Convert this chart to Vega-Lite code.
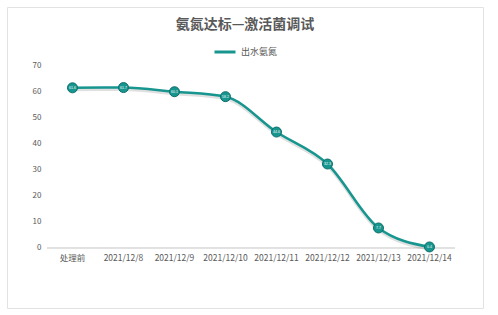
{
  "$schema": "https://vega.github.io/schema/vega-lite/v6.json",
  "width": 476,
  "height": 301,
  "autosize": "none",
  "padding": {"left": 7, "top": 7, "right": 15, "bottom": 7},
  "background": "white",
  "config": {
    "view": {"stroke": "#e2e2e2", "strokeWidth": 1},
    "legend": {"layout": {"top": {"anchor": "middle"}}}
  },
  "title": {
    "text": "氨氮达标—激活菌调试",
    "font": "Noto Sans CJK SC",
    "fontSize": 14,
    "fontWeight": "bold",
    "color": "#595959",
    "anchor": "middle",
    "offset": -25
  },
  "data": {
    "values": [
      {"date": "处理前", "value": 61.6, "series": "出水氨氮"},
      {"date": "2021/12/8", "value": 61.7, "series": "出水氨氮"},
      {"date": "2021/12/9", "value": 60.1, "series": "出水氨氮"},
      {"date": "2021/12/10", "value": 58.2, "series": "出水氨氮"},
      {"date": "2021/12/11", "value": 44.6, "series": "出水氨氮"},
      {"date": "2021/12/12", "value": 32.3, "series": "出水氨氮"},
      {"date": "2021/12/13", "value": 7.7, "series": "出水氨氮"},
      {"date": "2021/12/14", "value": 0.4, "series": "出水氨氮"}
    ]
  },
  "encoding": {
    "x": {
      "field": "date",
      "type": "ordinal",
      "sort": null,
      "scale": {"type": "band", "paddingInner": 0, "paddingOuter": 0.6667, "align": 0.588},
      "axis": {
        "title": null,
        "labelAngle": 0,
        "ticks": false,
        "grid": false,
        "domain": false,
        "offset": -60,
        "labelColor": "#595959",
        "labelFont": "Noto Sans CJK SC",
        "labelFontSize": 8.5,
        "labelPadding": 5
      }
    },
    "y": {
      "field": "value",
      "type": "quantitative",
      "scale": {"domain": [-23.08, 92.69], "nice": false, "zero": false},
      "axis": {
        "title": null,
        "values": [0, 10, 20, 30, 40, 50, 60, 70],
        "domain": false,
        "ticks": false,
        "grid": false,
        "offset": -40,
        "labelColor": "#595959",
        "labelFont": "Noto Sans CJK SC",
        "labelFontSize": 8,
        "labelPadding": 6
      }
    }
  },
  "layer": [
    {
      "description": "x baseline at zero, one segment per category band",
      "mark": {"type": "bar", "fill": null, "stroke": "#d9d9d9", "strokeWidth": 1},
      "encoding": {
        "y": {"datum": 0},
        "y2": {"datum": 0}
      }
    },
    {
      "description": "soft shadow under the series line",
      "mark": {"type": "line", "interpolate": "monotone", "strokeWidth": 3, "color": "#000000", "opacity": 0.12, "yOffset": 2}
    },
    {
      "mark": {"type": "line", "interpolate": "monotone", "strokeWidth": 2.5},
      "encoding": {
        "color": {
          "field": "series",
          "type": "nominal",
          "scale": {"range": ["#17958f"]},
          "legend": {
            "title": null,
            "orient": "top",
            "direction": "horizontal",
            "symbolType": "stroke",
            "symbolStrokeWidth": 3,
            "symbolSize": 440,
            "labelFont": "Noto Sans CJK SC",
            "labelFontSize": 9,
            "labelColor": "#595959",
            "offset": -51
          }
        }
      }
    },
    {
      "mark": {"type": "point", "filled": true, "size": 100, "color": "#17958f", "stroke": "#0e6f6b", "strokeWidth": 1, "opacity": 1}
    },
    {
      "mark": {"type": "text", "fontSize": 3.5, "color": "white", "baseline": "middle", "align": "center"},
      "encoding": {"text": {"field": "value", "type": "quantitative"}}
    }
  ]
}
